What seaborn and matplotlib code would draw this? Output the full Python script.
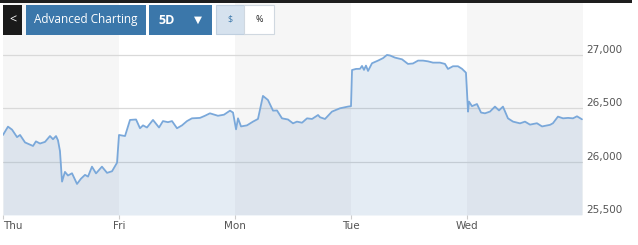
import numpy as np
import pandas as pd
import seaborn as sns
import matplotlib
matplotlib.use("Agg")
import matplotlib.pyplot as plt
from matplotlib.patches import Rectangle

# ---- data (time in trading days from Thu open, index level) ----
day_labels = ["Thu", "Fri", "Mon", "Tue", "Wed"]
y_ticks = [25500, 26000, 26500, 27000]
y_tick_labels = ["25,500", "26,000", "26,500", "27,000"]

t_thu = [0.00, 0.043, 0.078, 0.121, 0.147, 0.19, 0.233, 0.259, 0.284, 0.319, 0.362, 0.405,
         0.431, 0.457, 0.474, 0.491, 0.509, 0.534, 0.56, 0.595, 0.638, 0.672, 0.707, 0.733,
         0.767, 0.802, 0.853, 0.897, 0.94, 0.983]
v_thu = [26250, 26328, 26300, 26230, 26250, 26180, 26160, 26147, 26190, 26170, 26185, 26240,
         26210, 26240, 26200, 26100, 25813, 25904, 25870, 25891, 25791, 25840, 25876, 25860,
         25953, 25890, 25953, 25895, 25910, 25990]
t_fri = [1.00, 1.052, 1.095, 1.147, 1.181, 1.207, 1.241, 1.293, 1.345, 1.379, 1.422, 1.457,
         1.5, 1.543, 1.586, 1.629, 1.698, 1.741, 1.784, 1.853, 1.905, 1.957, 1.983]
v_fri = [26250, 26240, 26391, 26395, 26313, 26340, 26320, 26391, 26320, 26380, 26370, 26380,
         26313, 26340, 26380, 26406, 26410, 26430, 26453, 26430, 26440, 26478, 26460]
t_mon = [2.009, 2.026, 2.052, 2.103, 2.155, 2.198, 2.241, 2.284, 2.328, 2.362, 2.405, 2.457,
         2.5, 2.534, 2.578, 2.621, 2.664, 2.716, 2.733, 2.776, 2.836, 2.905, 2.974, 3.0]
v_mon = [26303, 26406, 26330, 26340, 26375, 26400, 26616, 26578, 26478, 26480, 26406, 26395,
         26359, 26375, 26365, 26406, 26400, 26437, 26416, 26400, 26469, 26500, 26516, 26520]
t_tue = [3.009, 3.043, 3.078, 3.095, 3.112, 3.129, 3.147, 3.181, 3.233, 3.276, 3.31, 3.336,
         3.379, 3.44, 3.491, 3.534, 3.578, 3.621, 3.664, 3.707, 3.767, 3.81, 3.836, 3.879,
         3.922, 3.957, 3.991]
v_tue = [26859, 26869, 26870, 26897, 26860, 26900, 26850, 26922, 26947, 26970, 27000, 26995,
         26975, 26959, 26916, 26920, 26947, 26947, 26940, 26928, 26928, 26916, 26869, 26894,
         26894, 26870, 26834]
t_wed = [4.009, 4.017, 4.043, 4.086, 4.121, 4.155, 4.198, 4.241, 4.276, 4.31, 4.353, 4.397,
         4.457, 4.5, 4.543, 4.603, 4.647, 4.716, 4.741, 4.784, 4.828, 4.871, 4.914, 4.948, 4.991]
v_wed = [26469, 26563, 26520, 26540, 26460, 26453, 26469, 26516, 26480, 26516, 26406, 26375,
         26359, 26375, 26347, 26360, 26330, 26345, 26360, 26422, 26406, 26410, 26406, 26425, 26397]

df = pd.DataFrame({
    "t": t_thu + t_fri + t_mon + t_tue + t_wed,
    "price": v_thu + v_fri + v_mon + v_tue + v_wed,
})

# ---- figure ----
sns.set_theme(style="white")
plt.rcParams["font.family"] = ["DejaVu Sans"]
W, H = 638, 245
fig = plt.figure(figsize=(W / 100, H / 100), dpi=100)
fig.patch.set_facecolor("white")

x0, x1, ytop, ybot = 3, 583, 3, 215
ax = fig.add_axes([x0 / W, (H - ybot) / H, (x1 - x0) / W, (ybot - ytop) / H])
ax.set_facecolor("white")
ymin = 25500
ymax = 27000 + (55 - ytop) * (500 / 53.4)
ax.set_xlim(0, 5)
ax.set_ylim(ymin, ymax)

# alternating day bands
for i in range(5):
    if i % 2 == 0:
        ax.axvspan(i, i + 1, color="#f6f6f6", zorder=0, lw=0)

# grid
for yv in y_ticks[1:]:
    ax.axhline(yv, color="#d9d9d9", lw=0.9, zorder=1)

ax.fill_between(df["t"], df["price"], ymin, color="#5b8cc0", alpha=0.16, lw=0, zorder=2)
sns.lineplot(data=df, x="t", y="price", ax=ax, color="#7aa8da", lw=1.3, zorder=3)

ax.set_xlabel("")
ax.set_ylabel("")
for s in ax.spines.values():
    s.set_visible(False)

ax.set_xticks(range(5))
ax.set_xticklabels(day_labels, fontsize=7.5, color="#555555")
ax.tick_params(axis="x", length=3, width=0.8, color="#cccccc", pad=1, bottom=True)
ax.get_xticklabels()[0].set_horizontalalignment("left")

ax.yaxis.tick_right()
ax.set_yticks(y_ticks)
ax.set_yticklabels(y_tick_labels, fontsize=7.5, color="#555555")
ax.tick_params(axis="y", length=0, pad=2)
for lab in ax.get_yticklabels():
    lab.set_verticalalignment("bottom")

# ---- top toolbar ----
def px_rect(x, y, w, h, fc, ec="none", lw=0, z=5):
    fig.patches.append(Rectangle((x / W, 1 - (y + h) / H), w / W, h / H,
                                 transform=fig.transFigure, fc=fc, ec=ec, lw=lw, zorder=z))

def px_text(x, y, s, **kw):
    fig.text(x / W, 1 - y / H, s, va="center", zorder=6, **kw)

px_rect(0, 0, 632, 3, "#1e1e1e")
px_rect(3, 5, 19, 30, "#1a1a1a")
px_text(12.5, 20, "<", ha="center", color="white", fontsize=9, family=["Open Sans", "DejaVu Sans"])
px_rect(26, 5, 120, 30, "#3b77aa")
px_text(86, 19.5, "Advanced Charting", ha="center", color="white", fontsize=8.5,
        family=["Open Sans", "DejaVu Sans"])
px_rect(149, 5, 63, 30, "#3b77aa")
px_text(167, 20, "5D", ha="center", color="white", fontsize=9, fontweight="bold",
        family=["Open Sans", "DejaVu Sans"])
px_text(198, 20, "\u25BC", ha="center", color="white", fontsize=7.5)
px_rect(215.5, 5.5, 29, 29, "#d6e2ee", ec="#bfcfdf", lw=0.8)
px_text(230, 19.5, "$", ha="center", color="#3b77aa", fontsize=6.5, family=["Open Sans", "DejaVu Sans"])
px_rect(244.5, 5.5, 29, 29, "white", ec="#d0d8e0", lw=0.8)
px_text(259, 19.5, "%", ha="center", color="#222222", fontsize=6.5, family=["Open Sans", "DejaVu Sans"])

fig.savefig("out.png", dpi=100)
